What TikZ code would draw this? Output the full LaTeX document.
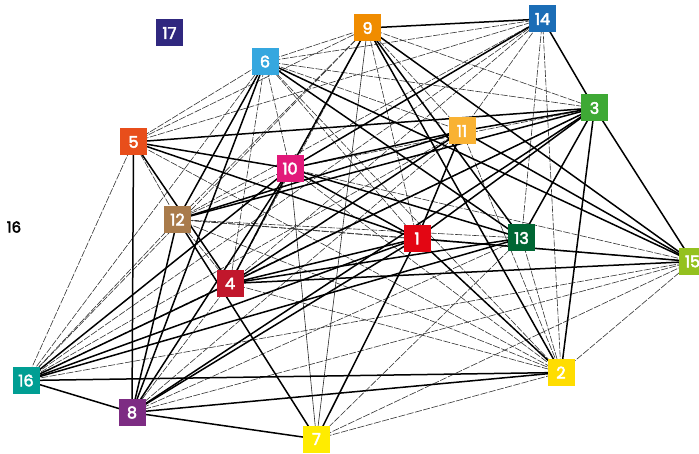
\documentclass[tikz,border=0pt]{standalone}
\usepackage{fontspec}
\setmainfont{Poppins}
\newfontfamily\goalfont[FakeBold=3]{Poppins}
\definecolor{c1}{HTML}{E30613}
\definecolor{c2}{HTML}{FFDD00}
\definecolor{c3}{HTML}{3EA935}
\definecolor{c4}{HTML}{C1172C}
\definecolor{c5}{HTML}{E84E1B}
\definecolor{c6}{HTML}{35A7DF}
\definecolor{c7}{HTML}{FFEC00}
\definecolor{c8}{HTML}{7D2C83}
\definecolor{c9}{HTML}{F08C00}
\definecolor{c10}{HTML}{E2197A}
\definecolor{c11}{HTML}{F9B233}
\definecolor{c12}{HTML}{A97B4B}
\definecolor{c13}{HTML}{006633}
\definecolor{c14}{HTML}{1B6DB6}
\definecolor{c15}{HTML}{94C11F}
\definecolor{c16}{HTML}{009E93}
\definecolor{c17}{HTML}{30287F}
\tikzset{
  goal/.style={fill=#1, text=white, minimum size=27pt, inner sep=0pt, font=\goalfont\fontsize{16}{16}\selectfont},
  strong/.style={line width=1.5pt, black},
  weak/.style={line width=0.6pt, black!80, dash pattern=on 7pt off 1.5pt},
  plainlabel/.style={font=\goalfont\fontsize{15}{15}\selectfont, text=black}
}
\begin{document}
\begin{tikzpicture}[x=1pt,y=-1pt]
\useasboundingbox (0,0) rectangle (699,454);
% coordinates of node centres
\coordinate (p1) at (417,238.5);
\coordinate (p2) at (561,372.5);
\coordinate (p3) at (594.5,108);
\coordinate (p4) at (230,283.5);
\coordinate (p5) at (133.5,142);
\coordinate (p6) at (265,61.5);
\coordinate (p7) at (316.5,439);
\coordinate (p8) at (132,412.5);
\coordinate (p9) at (367.5,28);
\coordinate (p10) at (290,168.5);
\coordinate (p11) at (462,131);
\coordinate (p12) at (177.5,219.5);
\coordinate (p13) at (521.5,238);
\coordinate (p14) at (542.5,19);
\coordinate (p15) at (692.5,261.5);
\coordinate (p16) at (26,380.5);
\coordinate (p17) at (169.5,33);
% weak links
\foreach \a/\b in {p5/p9,p5/p16,p5/p14,p5/p2,
  p6/p9,p6/p14,p6/p3,p6/p10,p6/p1,p6/p4,p6/p16,p6/p5,p6/p11,p6/p2,
  p9/p3,p9/p11,p9/p12,p9/p16,p9/p4,
  p14/p11,p14/p12,p14/p16,p14/p4,p14/p13,p14/p2,
  p3/p10,p3/p16,
  p10/p2,p10/p12,p10/p15,
  p12/p1,p12/p2,p12/p16,p12/p4,p12/p15,p12/p5,
  p4/p2,p11/p2,
  p13/p2,p13/p7,p13/p8,p13/p12,
  p15/p16,p15/p7,p15/p2,p15/p8,
  p16/p11,p8/p11,p8/p4,p7/p2,p1/p9}
  \draw[weak] (\a) -- (\b);
% thin solid links
\foreach \a/\b in {p7/p10,p7/p9}
  \draw[line width=0.6pt, black!85] (\a) -- (\b);
% strong links
\foreach \a/\b in {p9/p14,p14/p3,p14/p10,p9/p10,p9/p2,p9/p13,
  p3/p15,p3/p13,p3/p2,p3/p5,p3/p12,p3/p4,p3/p8,p3/p1,p3/p11,
  p5/p10,p5/p1,p5/p4,p5/p8,
  p12/p8,p12/p7,p12/p11,p6/p12,p6/p13,p6/p15,p6/p8,
  p10/p11,p10/p1,p10/p4,p10/p16,p10/p8,p10/p13,
  p4/p1,p4/p15,p4/p16,p4/p11,p4/p13,
  p1/p16,p1/p15,p1/p7,p1/p8,p1/p11,p1/p2,
  p13/p16,p11/p15,p9/p15,
  p16/p8,p16/p2,p8/p2,p8/p7}
  \draw[strong] (\a) -- (\b);
% goal boxes
\foreach \n in {1,...,17}
  \node[goal=c\n] (n\n) at (p\n) {\n};
\node[plainlabel] (t16) at (14,227) {16};
\end{tikzpicture}
\end{document}
